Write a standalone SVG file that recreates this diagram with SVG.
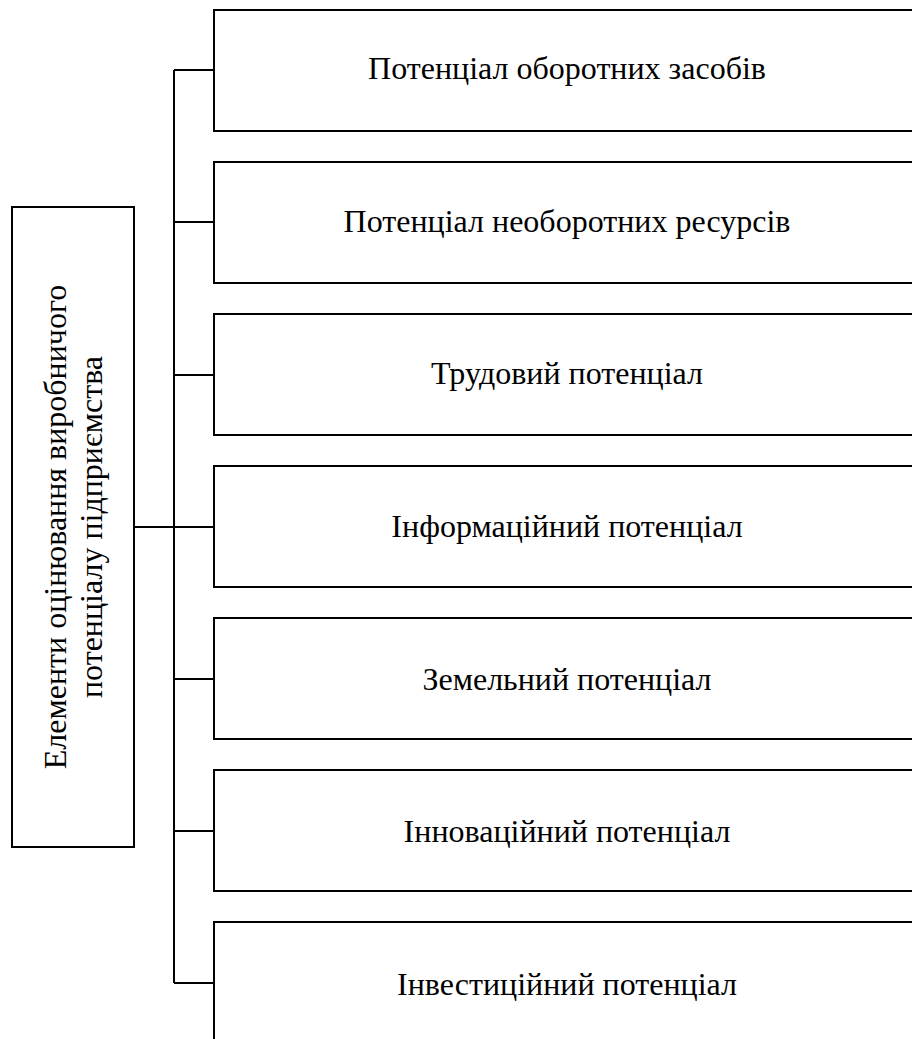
<svg xmlns="http://www.w3.org/2000/svg" width="912" height="1039" viewBox="0 0 912 1039">
<style>
.box{fill:#fff;stroke:#000;stroke-width:2}
.ln{fill:none;stroke:#000;stroke-width:2}
text{font-family:"Liberation Serif","Times New Roman",serif;font-size:32px;fill:#000}
.c{text-anchor:middle}
</style>
<rect width="912" height="1039" fill="#fff"/>
<g id="connectors">
<line class="ln" x1="174" y1="70" x2="174" y2="983"/>
<line class="ln" x1="134" y1="527" x2="174" y2="527"/>
<line class="ln" x1="174" y1="70" x2="214" y2="70"/>
<line class="ln" x1="174" y1="222" x2="214" y2="222"/>
<line class="ln" x1="174" y1="375" x2="214" y2="375"/>
<line class="ln" x1="174" y1="527" x2="214" y2="527"/>
<line class="ln" x1="174" y1="679" x2="214" y2="679"/>
<line class="ln" x1="174" y1="831" x2="214" y2="831"/>
<line class="ln" x1="174" y1="983" x2="214" y2="983"/>
</g>
<g id="root">
<rect class="box" x="12" y="207" width="122" height="640"/>
<text class="c" transform="translate(66,527) rotate(-90)">Елементи оцінювання виробничого</text>
<text class="c" transform="translate(102,527) rotate(-90)">потенціалу підприємства</text>
</g>
<g id="n1"><rect class="box" x="214" y="10" width="710" height="121"/><text class="c" x="567" y="79">Потенціал оборотних засобів</text></g>
<g id="n2"><rect class="box" x="214" y="162" width="710" height="121"/><text class="c" x="567" y="232">Потенціал необоротних ресурсів</text></g>
<g id="n3"><rect class="box" x="214" y="314" width="710" height="121"/><text class="c" x="567" y="384">Трудовий потенціал</text></g>
<g id="n4"><rect class="box" x="214" y="466" width="710" height="121"/><text class="c" x="567" y="537">Інформаційний потенціал</text></g>
<g id="n5"><rect class="box" x="214" y="618" width="710" height="121"/><text class="c" x="567" y="690">Земельний потенціал</text></g>
<g id="n6"><rect class="box" x="214" y="770" width="710" height="121"/><text class="c" x="567" y="842">Інноваційний потенціал</text></g>
<g id="n7"><rect class="box" x="214" y="922" width="710" height="130"/><text class="c" x="567" y="995">Інвестиційний потенціал</text></g>
</svg>
